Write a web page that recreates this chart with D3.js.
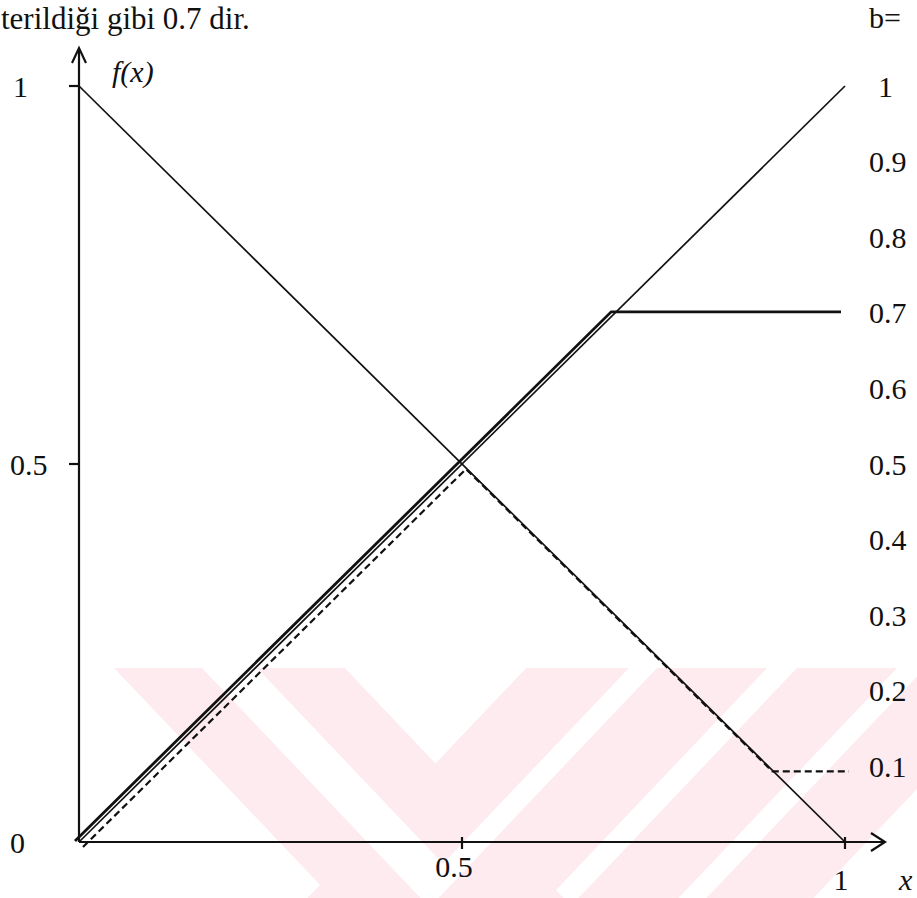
<!DOCTYPE html>
<html>
<head>
<meta charset="utf-8">
<script src="https://cdn.jsdelivr.net/npm/d3@7"></script>
<style>
  html, body { margin: 0; padding: 0; background: #ffffff; }
  svg { display: block; }
  text { font-family: "Liberation Serif", "Times New Roman", Times, serif; fill: #111; }
</style>
</head>
<body>
<svg id="chart" width="917" height="898"></svg>
<script>
// ---------- data ----------
const headerText = "terildiği gibi 0.7 dir.";
const yAxisTitle = "f(x)";
const xAxisTitle = "x";
const legendTitle = "b=";

const xTickValues = [0.5, 1];
const xTickLabels = ["0.5", "1"];
const yTickValues = [0, 0.5, 1];
const yTickLabels = ["0", "0.5", "1"];
const yTickMarks = [0.5, 1];

const bValues = [1, 0.9, 0.8, 0.7, 0.6, 0.5, 0.4, 0.3, 0.2, 0.1];
const bLabels = ["1", "0.9", "0.8", "0.7", "0.6", "0.5", "0.4", "0.3", "0.2", "0.1"];

// descending line 1 - x
const descX = [0, 1];
const descY = [1, 0];
// ascending line x (b = 1)
const identX = [0, 1];
const identY = [0, 1];
// capped at b = 0.7
const capX = [0, 0.7, 1];
const capY = [0, 0.7, 0.7];
// dashed: rises to 0.5, follows 1 - x, floor at b = 0.1
const dashX = [0, 0.5, 0.9, 1];
const dashY = [0, 0.5, 0.1, 0.1];

// ---------- drawing ----------
const svg = d3.select("#chart");
const W = 917, H = 898;
svg.append("rect").attr("width", W).attr("height", H).attr("fill", "#fff");

// watermark (pale pink nested chevrons from the scanned page)
const wm = svg.append("g");
const wmTop = 668, wmBot = 898, sl = 0.95;
function band(x0, x1, dir) {
  const d = (wmBot - wmTop) * sl * dir;
  return [[x0, wmTop], [x1, wmTop], [x1 + d, wmBot], [x0 + d, wmBot]];
}
const pink = "#fdebef";
[band(114, 345, 1), band(526, 767, -1), band(797, 897, -1), band(925, 1032, -1)]
  .forEach(p => wm.append("polygon").attr("points", p.join(" ")).attr("fill", pink));
function vgap(l0, l1, r0, r1) {
  const apexOuter = (r1 - l0) / (2 * sl);
  const apexInner = (r0 - l1) / (2 * sl);
  return [[l0, wmTop], [l1, wmTop], [l1 + apexInner * sl, wmTop + apexInner],
          [r0, wmTop], [r1, wmTop], [r1 - apexOuter * sl, wmTop + apexOuter]];
}
wm.append("polygon").attr("points", vgap(202, 257, 629, 657).join(" ")).attr("fill", "#fff");
wm.append("polygon").attr("points", (function(){
  const a = (526 - 345) / (2 * sl);
  return [[345, wmTop], [526, wmTop], [345 + a * sl, wmTop + a]];
})().join(" ")).attr("fill", "#fff");

const x = d3.scaleLinear().domain([0, 1]).range([79, 845]);
const y = d3.scaleLinear().domain([0, 1]).range([842, 86]);

// header text
svg.append("text").attr("x", 1).attr("y", 29)
  .attr("font-size", 31).text(headerText);

// axes
const axisG = svg.append("g").attr("stroke", "#111").attr("stroke-width", 2.2).attr("fill", "none");
axisG.append("line").attr("x1", x(0)).attr("x2", x(0)).attr("y1", y(0)).attr("y2", 49);
axisG.append("path").attr("d", `M${x(0) - 7},63 L${x(0)},48 L${x(0) + 7},63`);
axisG.append("line").attr("x1", x(0)).attr("x2", 884).attr("y1", y(0)).attr("y2", y(0));
axisG.append("path").attr("d", `M871,${y(0) - 9} L885,${y(0)} L871,${y(0) + 9}`);

axisG.selectAll("line.yt").data(yTickMarks).join("line").attr("class", "yt")
  .attr("x1", x(0) - 10).attr("x2", x(0)).attr("y1", d => y(d)).attr("y2", d => y(d));
axisG.selectAll("line.xt").data(xTickValues).join("line").attr("class", "xt")
  .attr("x1", d => x(d)).attr("x2", d => x(d)).attr("y1", y(0) - 5).attr("y2", y(0) + 7);

// y tick labels (left)
svg.selectAll("text.yl").data(yTickValues).join("text").attr("class", "yl")
  .attr("x", (d, i) => i === 2 ? 13 : 10).attr("y", d => y(d)).attr("dy", "0.35em")
  .attr("font-size", 30).text((d, i) => yTickLabels[i]);

// x tick labels
const xLabelDy = [35, 48];
svg.selectAll("text.xl").data(xTickValues).join("text").attr("class", "xl")
  .attr("x", (d, i) => x(d) - (i === 0 ? 8 : 4)).attr("y", (d, i) => y(0) + xLabelDy[i])
  .attr("text-anchor", "middle").attr("font-size", 30).text((d, i) => xTickLabels[i]);

// axis titles
svg.append("text").attr("x", 112).attr("y", 82).attr("font-size", 30)
  .attr("font-style", "italic").text(yAxisTitle);
svg.append("text").attr("x", 899).attr("y", 890).attr("font-size", 30)
  .attr("font-style", "italic").text(xAxisTitle);

// right-hand b labels
svg.append("text").attr("x", 869).attr("y", 28).attr("font-size", 30).text(legendTitle);
svg.selectAll("text.bl").data(bValues).join("text").attr("class", "bl")
  .attr("x", (d, i) => i === 0 ? 878 : 869).attr("y", d => y(d)).attr("dy", "0.35em")
  .attr("font-size", 30).text((d, i) => bLabels[i]);

// curves
const line = d3.line().x(d => x(d[0])).y(d => y(d[1]));
const zip = (xs, ys) => xs.map((v, i) => [v, ys[i]]);

svg.append("path").datum(zip(descX, descY)).attr("d", line)
  .attr("fill", "none").attr("stroke", "#111").attr("stroke-width", 1.7);
svg.append("path").datum(zip(identX, identY)).attr("d", line)
  .attr("fill", "none").attr("stroke", "#111").attr("stroke-width", 1.7);
svg.append("path").datum(zip(capX, capY)).attr("d", line)
  .attr("transform", "translate(-4,-1)")
  .attr("fill", "none").attr("stroke", "#111").attr("stroke-width", 2.8)
  .attr("stroke-linejoin", "miter");
svg.append("path").datum(zip(dashX, dashY)).attr("d", line)
  .attr("transform", "translate(4,5)")
  .attr("fill", "none").attr("stroke", "#111").attr("stroke-width", 2.2)
  .attr("stroke-dasharray", "7,4");
</script>
</body>
</html>
